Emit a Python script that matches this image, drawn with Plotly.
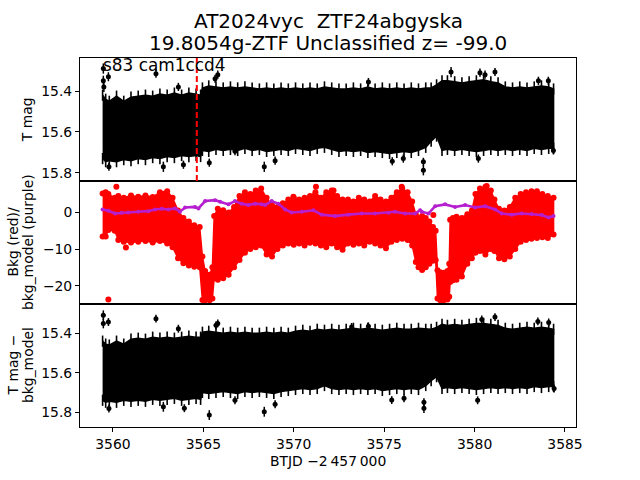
import plotly.graph_objects as go
from plotly.subplots import make_subplots

# ---------------- data ----------------
# envelope of the dense T-mag light curve (band edges incl. error bars)
t_env = [3559.43, 3559.6, 3559.8, 3560.2, 3560.6, 3561.0, 3561.4, 3561.8, 3562.2, 3562.6,
         3563.0, 3563.4, 3563.8, 3564.2, 3564.6, 3564.85, 3564.95, 3565.3, 3565.7, 3566.1,
         3566.5, 3566.9, 3567.3, 3567.7, 3568.1, 3568.5, 3568.9, 3569.3, 3569.7, 3570.1,
         3570.5, 3570.9, 3571.3, 3571.7, 3572.1, 3572.5, 3572.9, 3573.3, 3573.7, 3574.1,
         3574.5, 3574.9, 3575.3, 3575.7, 3576.1, 3576.5, 3576.9, 3577.3, 3577.6, 3577.9,
         3578.2, 3578.5, 3578.9, 3579.3, 3579.7, 3580.1, 3580.5, 3580.9, 3581.3, 3581.7,
         3582.1, 3582.5, 3582.9, 3583.3, 3583.7, 3584.1, 3584.37]
tmag_hi = [15.42, 15.44, 15.45, 15.425, 15.45, 15.43, 15.425, 15.42, 15.425, 15.415,
           15.42, 15.41, 15.42, 15.41, 15.415, 15.42, 15.385, 15.375, 15.38, 15.385,
           15.38, 15.385, 15.38, 15.385, 15.39, 15.385, 15.39, 15.385, 15.39, 15.385,
           15.39, 15.385, 15.39, 15.38, 15.385, 15.39, 15.39, 15.385, 15.39, 15.38,
           15.39, 15.385, 15.39, 15.385, 15.39, 15.385, 15.39, 15.385, 15.385, 15.37,
           15.35, 15.35, 15.355, 15.36, 15.355, 15.35, 15.345, 15.355, 15.36, 15.38,
           15.385, 15.38, 15.385, 15.38, 15.375, 15.38, 15.39]
tmag_lo = [15.73, 15.745, 15.74, 15.745, 15.735, 15.74, 15.73, 15.735, 15.725, 15.73,
           15.72, 15.725, 15.715, 15.72, 15.715, 15.72, 15.69, 15.695, 15.685, 15.69,
           15.685, 15.69, 15.68, 15.69, 15.685, 15.695, 15.69, 15.685, 15.69, 15.68,
           15.685, 15.69, 15.68, 15.675, 15.685, 15.695, 15.69, 15.695, 15.69, 15.70,
           15.695, 15.70, 15.705, 15.70, 15.695, 15.70, 15.69, 15.675, 15.645, 15.62,
           15.69, 15.685, 15.69, 15.685, 15.69, 15.695, 15.69, 15.685, 15.69, 15.685,
           15.69, 15.685, 15.69, 15.68, 15.685, 15.68, 15.68]
tcorr_hi = [15.44, 15.455, 15.46, 15.44, 15.455, 15.43, 15.425, 15.43, 15.42, 15.425,
            15.42, 15.425, 15.42, 15.415, 15.42, 15.42, 15.395, 15.39, 15.395, 15.40,
            15.395, 15.40, 15.395, 15.40, 15.40, 15.395, 15.40, 15.395, 15.40, 15.39,
            15.385, 15.39, 15.38, 15.385, 15.38, 15.385, 15.38, 15.375, 15.38, 15.375,
            15.38, 15.385, 15.38, 15.375, 15.38, 15.38, 15.375, 15.38, 15.38, 15.37,
            15.355, 15.36, 15.355, 15.36, 15.355, 15.35, 15.35, 15.355, 15.36, 15.375,
            15.38, 15.375, 15.37, 15.375, 15.37, 15.375, 15.38]
tcorr_lo = [15.74, 15.75, 15.745, 15.75, 15.74, 15.745, 15.74, 15.745, 15.735, 15.74,
            15.735, 15.73, 15.74, 15.735, 15.73, 15.735, 15.70, 15.705, 15.70, 15.695,
            15.70, 15.705, 15.695, 15.70, 15.695, 15.70, 15.705, 15.695, 15.69, 15.685,
            15.68, 15.685, 15.68, 15.665, 15.68, 15.685, 15.68, 15.685, 15.68, 15.685,
            15.68, 15.69, 15.685, 15.68, 15.685, 15.68, 15.685, 15.665, 15.64, 15.62,
            15.68, 15.675, 15.68, 15.675, 15.68, 15.685, 15.68, 15.675, 15.68, 15.675,
            15.68, 15.675, 15.68, 15.67, 15.675, 15.67, 15.67]

# isolated points of the T-mag light curve
t_out_top = [3559.47, 3559.47, 3559.50, 3559.75, 3562.38, 3563.62, 3565.65, 3565.80,
             3574.13, 3578.70, 3580.30, 3580.58, 3581.13, 3583.53, 3584.08,
             3559.78, 3562.79, 3563.90, 3565.33, 3566.75, 3568.37, 3568.97, 3575.45,
             3576.06, 3577.17, 3577.17, 3580.21, 3584.36]
mag_out_top = [15.29, 15.35, 15.38, 15.33, 15.315, 15.38, 15.34, 15.32,
               15.356, 15.307, 15.31, 15.32, 15.307, 15.35, 15.35,
               15.77, 15.77, 15.76, 15.75, 15.694, 15.77, 15.74, 15.743,
               15.73, 15.746, 15.787, 15.73, 15.69]
err_out_top = [0.025, 0.025, 0.025, 0.022, 0.02, 0.02, 0.02, 0.02,
               0.02, 0.025, 0.02, 0.02, 0.02, 0.02, 0.02,
               0.02, 0.025, 0.02, 0.02, 0.02, 0.025, 0.02, 0.02,
               0.02, 0.02, 0.025, 0.02, 0.02]

t_out_bot = [3559.47, 3559.47, 3559.75, 3562.38, 3563.62, 3565.70, 3565.80, 3573.20,
             3574.13, 3580.40, 3581.13, 3583.50, 3584.10,
             3559.78, 3562.79, 3563.95, 3565.33, 3566.75, 3568.37, 3568.97, 3575.42,
             3576.10, 3577.20, 3577.20, 3580.17, 3584.40]
mag_out_bot = [15.309, 15.35, 15.343, 15.326, 15.377, 15.36, 15.35, 15.368,
               15.365, 15.33, 15.318, 15.34, 15.345,
               15.782, 15.773, 15.78, 15.815, 15.74, 15.798, 15.76, 15.739,
               15.73, 15.75, 15.78, 15.74, 15.68]
err_out_bot = [0.025, 0.025, 0.02, 0.02, 0.02, 0.02, 0.02, 0.02,
               0.02, 0.02, 0.02, 0.02, 0.02,
               0.02, 0.025, 0.02, 0.025, 0.02, 0.025, 0.02, 0.02,
               0.02, 0.02, 0.025, 0.02, 0.02]

# background (red) envelope
t_bkg = [3559.43, 3559.6, 3559.75, 3560.1, 3560.3, 3560.6, 3561.0, 3561.4, 3561.8, 3562.2,
         3562.6, 3563.0, 3563.3, 3563.6, 3563.9, 3564.2, 3564.5, 3564.8, 3564.95, 3565.1,
         3565.35, 3565.5, 3565.6, 3565.8, 3566.1, 3566.4, 3566.7, 3567.0, 3567.3, 3567.6,
         3567.9, 3568.2, 3568.5, 3568.8, 3569.1, 3569.4, 3569.7, 3570.0, 3570.3, 3570.6,
         3570.9, 3571.2, 3571.5, 3571.8, 3572.1, 3572.4, 3572.7, 3573.0, 3573.3, 3573.6,
         3573.9, 3574.2, 3574.5, 3574.8, 3575.1, 3575.4, 3575.7, 3576.0, 3576.3, 3576.55,
         3576.75, 3576.9, 3577.1, 3577.3, 3577.5, 3577.7, 3577.85, 3577.95, 3578.1, 3578.3,
         3578.5, 3578.6, 3578.65, 3578.8, 3579.0, 3579.3, 3579.6, 3579.85, 3580.05, 3580.3,
         3580.6, 3580.9, 3581.1, 3581.35, 3581.65, 3581.95, 3582.25, 3582.55, 3582.85, 3583.15,
         3583.45, 3583.75, 3584.05, 3584.37]
bkg_hi = [5.2, 5.5, 5.0, 4.0, 4.5, 4.0, 4.6, 4.3, 4.6, 4.2,
          5.5, 5.8, 4.0, 0.5, -1.5, -2.5, -3.5, -4.0, -12.0, -16.0,
          -17.0, -15.0, -1.0, 1.0, 0.6, 0.0, 1.5, 4.5, 5.5, 5.0,
          6.0, 6.5, 4.0, 2.0, 1.5, 2.5, 3.5, 4.0, 3.5, 4.0,
          4.5, 5.5, 4.0, 5.5, 6.0, 4.5, 3.5, 3.5, 3.0, 4.0,
          3.5, 3.0, 4.5, 3.5, 3.0, 4.0, 5.5, 6.5, 5.5, 3.0,
          -0.5, -1.5, -1.0, -1.5, -2.5, -4.0, -5.0, -15.8, -16.3, -16.5,
          -16.0, -14.0, -2.0, -1.5, -1.2, -1.5, -0.5, 0.5, 5.0, 6.5,
          7.0, 6.0, 3.5, 1.0, 0.5, 1.5, 4.0, 5.0, 5.5, 5.8,
          5.8, 5.0, 4.5, 4.0]
bkg_lo = [-6.6, -6.6, -4.8, -5.0, -7.5, -8.0, -8.2, -8.0, -7.8, -8.2,
          -7.8, -8.5, -9.5, -12.5, -13.9, -14.5, -14.8, -15.0, -23.9, -24.0,
          -24.0, -23.5, -18.0, -18.4, -18.0, -17.0, -15.0, -13.0, -11.0, -10.0,
          -9.5, -9.0, -11.5, -12.0, -10.0, -9.0, -8.5, -8.8, -8.5, -9.0,
          -8.3, -8.5, -9.0, -9.5, -8.5, -9.5, -10.2, -8.5, -8.8, -8.5,
          -9.0, -8.0, -8.5, -9.0, -9.8, -8.0, -7.5, -7.2, -7.5, -9.0,
          -13.5, -15.0, -15.7, -15.0, -14.0, -13.2, -13.0, -23.5, -24.0, -24.0,
          -23.8, -23.0, -19.0, -18.5, -18.4, -17.5, -14.0, -12.5, -11.0, -10.5,
          -11.5, -10.0, -10.5, -12.5, -12.8, -12.0, -10.0, -8.0, -7.5, -7.2,
          -7.0, -6.8, -7.0, -6.0]
t_bkg_out = [3559.75, 3560.19, 3560.72, 3569.98, 3571.23, 3572.20, 3575.97, 3577.72,
             3580.67, 3582.06]
bkg_out = [-23.8, 7.0, -9.6, 4.3, 7.0, 6.0, 7.0, -0.7, 7.2, 1.5]

# background model (purple)
t_model = [3559.43, 3559.75, 3560.12, 3560.49, 3560.85, 3561.41, 3561.96, 3562.33, 3562.70, 3563.07,
           3563.44, 3563.71, 3563.99, 3564.54, 3564.73, 3565.10, 3565.65, 3565.93, 3566.39, 3566.75,
           3567.12, 3567.49, 3567.86, 3568.23, 3568.41, 3568.78, 3569.15, 3569.52, 3569.89, 3570.44,
           3571.09, 3571.55, 3572.29, 3573.02, 3573.76, 3574.50, 3575.24, 3575.60, 3576.16, 3576.71,
           3576.99, 3577.08, 3577.45, 3577.82, 3578.37, 3578.92, 3579.48, 3580.03, 3580.58, 3581.14,
           3581.50, 3582.06, 3582.61, 3583.16, 3583.72, 3584.09, 3584.37]
bkg_model = [0.8, 0.45, -0.3, -0.1, 0.0, 0.2, 0.35, 0.8, 1.0, 0.8,
             1.1, 0.2, 1.35, 1.5, 1.1, 3.1, 3.35, 2.9, 2.2, 3.1,
             2.4, 2.0, 2.4, 2.2, 2.0, 3.1, 2.4, 0.8, 0.0, 0.2,
             0.6, -0.6, -1.0, -0.6, -0.3, -0.3, -0.1, 0.2, -0.3, -0.3,
             0.6, 0.2, -0.3, 1.7, 2.2, 1.5, 2.0, 1.35, 1.7, 0.8,
             -0.3, -0.6, -0.3, -0.45, -0.7, -1.4, -1.0]

t_marker = 3564.64          # red dashed line (top panel)
x_ticks = [3560, 3565, 3570, 3575, 3580, 3585]
y_ticks_mag = [15.4, 15.6, 15.8]
y_ticks_bkg = [-20, -10, 0]

title_1 = "AT2024vyc\u00a0\u00a0ZTF24abgyska"
title_2 = "19.8054g-ZTF Unclassified z= -99.0"
sector_label = "s83 cam1ccd4"

# ---------------- figure ----------------
FONT = "DejaVu Sans"
fig = make_subplots(rows=3, cols=1, shared_xaxes=True, vertical_spacing=0)


def band(t, hi, lo, color, row, dots=False):
    fig.add_trace(go.Scatter(
        x=list(t) + list(t)[::-1], y=list(hi) + list(lo)[::-1],
        fill="toself", fillcolor=color, mode="lines",
        line=dict(color=color, width=1.5), hoverinfo="skip", showlegend=False),
        row=row, col=1)
    # ragged edge: error-bar tips (black) or dots (red) along the band edges
    if dots:
        mk = dict(size=6, color=color)
    else:
        mk = dict(symbol="line-ns-open", size=8, color=color,
                  line=dict(width=1.6, color=color))
    fig.add_trace(go.Scatter(x=list(t) + list(t), y=list(hi) + list(lo), mode="markers",
                             marker=mk, hoverinfo="skip", showlegend=False),
                  row=row, col=1)


band(t_env, tmag_hi, tmag_lo, "black", 1)
fig.add_trace(go.Scatter(x=t_out_top, y=mag_out_top, mode="markers",
                         marker=dict(size=5, color="black"),
                         error_y=dict(type="data", array=err_out_top, color="black",
                                      thickness=1.5, width=0),
                         showlegend=False), row=1, col=1)

band(t_bkg, bkg_hi, bkg_lo, "#ff0000", 2, dots=True)
fig.add_trace(go.Scatter(x=t_bkg_out, y=bkg_out, mode="markers",
                         marker=dict(size=6, color="#ff0000"), showlegend=False), row=2, col=1)
fig.add_trace(go.Scatter(x=t_model, y=bkg_model, mode="lines+markers",
                         line=dict(color="#b51fcf", width=2.6),
                         marker=dict(size=4, color="#b51fcf"), showlegend=False), row=2, col=1)

band(t_env, tcorr_hi, tcorr_lo, "black", 3)
fig.add_trace(go.Scatter(x=t_out_bot, y=mag_out_bot, mode="markers",
                         marker=dict(size=5, color="black"),
                         error_y=dict(type="data", array=err_out_bot, color="black",
                                      thickness=1.5, width=0),
                         showlegend=False), row=3, col=1)

fig.add_shape(type="line", x0=t_marker, x1=t_marker, y0=0, y1=1,
              xref="x", yref="y domain", line=dict(color="red", width=2, dash="6px,3px"))

axis_common = dict(showline=True, linecolor="black", linewidth=1, mirror=True,
                   showgrid=False, zeroline=False, tickcolor="black", tickwidth=1,
                   ticklen=4, tickfont=dict(family=FONT, size=13.9, color="black"))
for r in (1, 2, 3):
    fig.update_xaxes(range=[3558.18, 3585.61], tickvals=x_ticks,
                     ticks="outside" if r == 3 else "", row=r, col=1, **axis_common)
fig.update_yaxes(range=[15.8395, 15.2385], tickvals=y_ticks_mag, ticks="outside",
                 row=1, col=1, **axis_common)
fig.update_yaxes(range=[-25.0, 8.58], tickvals=y_ticks_bkg, ticks="outside",
                 row=2, col=1, **axis_common)
fig.update_yaxes(range=[15.8754, 15.2516], tickvals=y_ticks_mag, ticks="outside",
                 row=3, col=1, **axis_common)

# plot area in page pixels: x 80..576, y 57.6..427.2 (body margin removed below)
FX0, FY1, PW, PH = 80, 427.2, 496, 369.6
L, T = FX0, 57.6
R, B = 640 - L - PW, 480 - T - PH


def px(x):
    return (x - FX0) / PW


def py(y):
    return (FY1 - y) / PH


ann = []
for txt, yy in ((title_1, 21), (title_2, 42.5)):
    ann.append(dict(text=txt, x=0.5, y=py(yy), xref="paper", yref="paper",
                    xanchor="center", yanchor="middle", showarrow=False,
                    font=dict(family=FONT, size=20, color="black")))
ann.append(dict(text=sector_label, x=px(101), y=py(64.5), xref="paper", yref="paper",
                xanchor="left", yanchor="middle", showarrow=False,
                font=dict(family=FONT, size=16.9, color="black")))
for txt, xx, yy in (("T mag", 26.7, 119.2),
                    ("Bkg (red)/", 12.0, 242.4), ("bkg_model (purple)", 27.5, 242.4),
                    ("T mag \u2212", 12.0, 365.6), ("bkg_model", 27.5, 365.6)):
    ann.append(dict(text=txt, x=px(xx), y=py(yy), xref="paper", yref="paper",
                    xanchor="center", yanchor="middle", textangle=-90, showarrow=False,
                    font=dict(family=FONT, size=13.9, color="black")))
ann.append(dict(text="BTJD \u22122\u2009457\u2009000", x=0.5, y=py(461.5), xref="paper",
                yref="paper", xanchor="center", yanchor="middle", showarrow=False,
                font=dict(family=FONT, size=13.9, color="black")))

fig.update_layout(width=640, height=480, margin=dict(l=L, r=R, t=T, b=B),
                  paper_bgcolor="white", plot_bgcolor="white", showlegend=False,
                  font=dict(family=FONT, size=13.9, color="black"), annotations=ann)

fig.write_html("out.html", config={"displayModeBar": False},
               post_script="document.body.style.margin='0px';"
                           "document.body.style.overflow='hidden';")
